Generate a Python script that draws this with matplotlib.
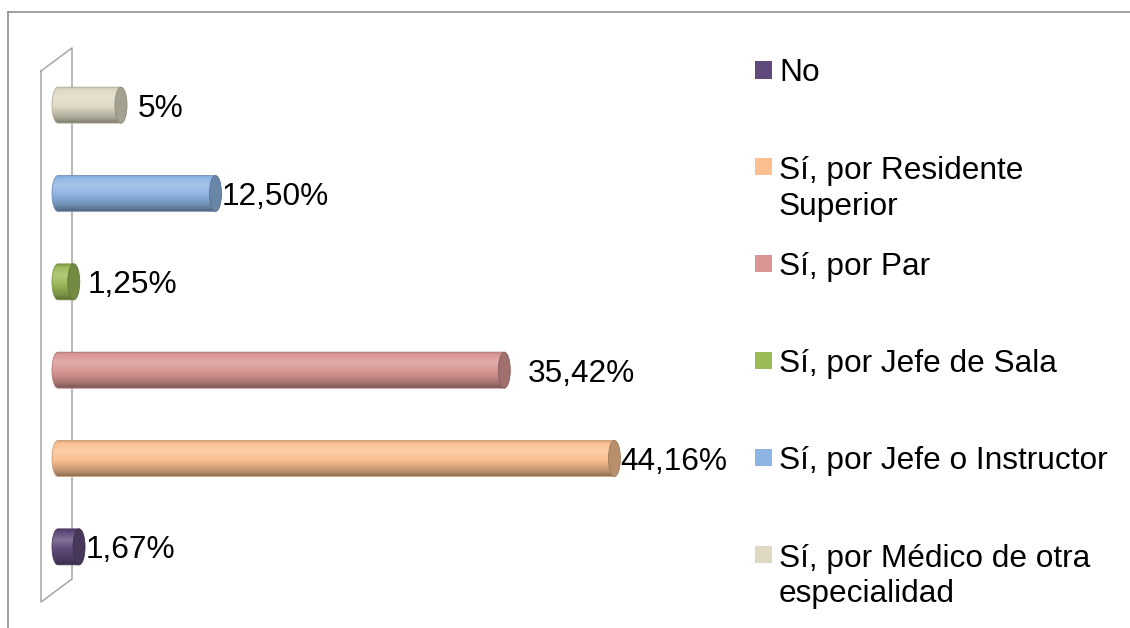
import numpy as np
import matplotlib.pyplot as plt
import matplotlib.colors as mcolors
from matplotlib.patches import Ellipse, Rectangle, PathPatch
from matplotlib.path import Path
from matplotlib.lines import Line2D

# data, bottom bar first (legend lists them top to bottom in this order)
categories = ['No', 'Sí, por Residente\nSuperior', 'Sí, por Par', 'Sí, por Jefe de Sala',
              'Sí, por Jefe o Instructor', 'Sí, por Médico de otra\nespecialidad']
values = [1.67, 44.16, 35.42, 1.25, 12.5, 5]
value_labels = ['1,67%', '44,16%', '35,42%', '1,25%', '12,50%', '5%']
colors = ['#604A7B', '#FAC090', '#D99694', '#9BBB59', '#8EB4E3', '#DDD9C3']
label_gap = [1, 0, 17, 8, 0, 11]  # px between bar end and its label

W, H = 1130, 628
plt.rcParams['font.family'] = ['Liberation Sans', 'DejaVu Sans']
fs = 22.8
cap = fs * 100 / 72 * 0.716  # cap height in px
line_px = 37  # distance between lines of a wrapped legend entry

fig = plt.figure(figsize=(W / 100, H / 100), dpi=100)


def fx(x):
    return x / W


def fy(y):
    return 1 - y / H


# plot area in pixels, value 0 sits at x=58
zero, right, top, bottom = 58, 688, 61, 591
xunit = (right - zero) / 50
pad = 14 / xunit
ax = fig.add_axes([fx(zero - 14), fy(bottom), (right - zero + 14) / W, (bottom - top) / H])
ax.set_axis_off()

yunit = (bottom - top) / len(values)
bar_h = 36 / yunit
rx = 6 / xunit


def shade(c, f):
    c = np.array(mcolors.to_rgb(c))
    if f >= 1:
        return np.clip(c + (1 - c) * (f - 1), 0, 1)
    return c * f


# cylinder look: vertical light profile, top -> bottom
prof_pos = [0, 0.08, 0.3, 0.55, 0.85, 1]
prof_f = [0.8, 1.0, 1.22, 1.0, 0.78, 0.58]
tt = np.linspace(0, 1, 80)

for i, (v, c) in enumerate(zip(values, colors)):
    y = i
    f = np.interp(tt, prof_pos, prof_f)
    grad = np.array([shade(c, k) for k in f])[:, None, :]

    t = np.linspace(np.pi / 2, 3 * np.pi / 2, 40)
    arc = np.column_stack([rx * np.cos(t), y + bar_h / 2 * np.sin(t)])
    ends = np.array([[v, y - bar_h / 2], [v, y + bar_h / 2], arc[0]])
    verts = np.vstack([arc, ends])
    body = PathPatch(Path(verts, closed=True), facecolor='none',
                     edgecolor=shade(c, 0.8), lw=0.6, zorder=3)
    ax.add_patch(body)
    im = ax.imshow(grad, extent=[-rx, v + rx, y - bar_h / 2, y + bar_h / 2],
                   origin='upper', aspect='auto', interpolation='bilinear', zorder=2)
    im.set_clip_path(body)

    ax.add_patch(Ellipse((v, y), 2 * rx, bar_h, facecolor=shade(c, 0.74),
                         edgecolor=shade(c, 0.64), lw=0.6, zorder=4))

    ax.annotate(value_labels[i], (v, y), xytext=(rx * xunit + label_gap[i], -cap / 2),
                textcoords='offset pixels', fontsize=fs, va='baseline', ha='left',
                annotation_clip=False, zorder=5)

ax.set_xlim(-pad, 50)
ax.set_ylim(-0.5, len(values) - 0.5)

# chart border (cut at right/bottom) and 3d wall
border = '#868686'
fig.add_artist(Line2D([fx(8), fx(W)], [fy(12), fy(12)], color=border, lw=1.1, zorder=-2))
fig.add_artist(Line2D([fx(8), fx(8)], [fy(12), fy(H)], color=border, lw=1.1, zorder=-2))
wall_x = [41, 72, 72, 41, 41]
wall_y = [71, 48, 579, 602, 71]
fig.add_artist(Line2D([fx(x) for x in wall_x], [fy(y) for y in wall_y],
                      color='#A6A6A6', lw=1.1, zorder=-1))

# legend
for i, (cat, c) in enumerate(zip(categories, colors)):
    yc = 70 + 96.8 * i
    fig.add_artist(Rectangle((fx(755), fy(yc + 8.5)), 17 / W, 17 / H,
                             transform=fig.transFigure, facecolor=c, edgecolor='none'))
    extra = cat.count('\n') * line_px
    fig.text(fx(779), fy(yc + cap / 2 + extra), cat, fontsize=fs, va='baseline',
             ha='left', linespacing=1.25)

fig.savefig('out.png', dpi=100)
